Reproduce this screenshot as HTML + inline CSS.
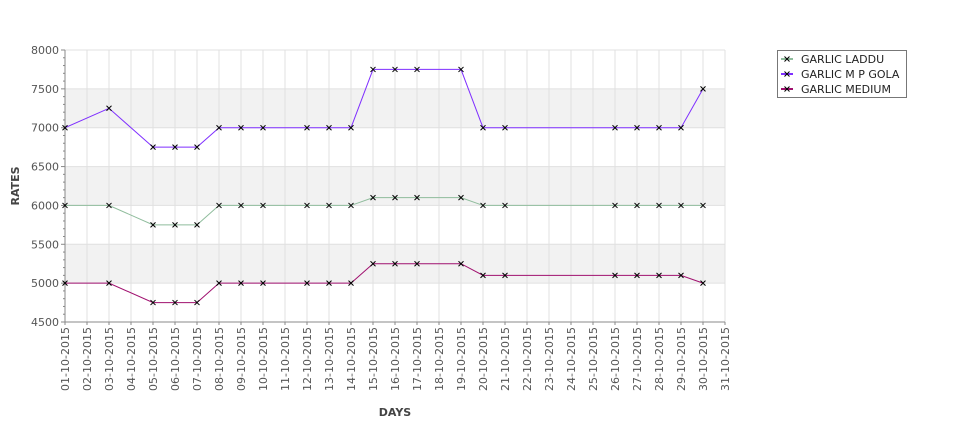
<!DOCTYPE html>
<html><head><meta charset="utf-8"><style>
body{margin:0;background:#fff;}
svg{display:block;font-family:"DejaVu Sans","Liberation Sans",sans-serif;}
</style></head><body>
<svg id="c" width="975" height="429"></svg>
<script>
const days=[1,3,5,6,7,8,9,10,12,13,14,15,16,17,19,20,21,26,27,28,29,30];
const seriesNames=["GARLIC LADDU","GARLIC M P GOLA","GARLIC MEDIUM"];
const laddu=[6000,6000,5750,5750,5750,6000,6000,6000,6000,6000,6000,6100,6100,6100,6100,6000,6000,6000,6000,6000,6000,6000];
const gola=[7000,7250,6750,6750,6750,7000,7000,7000,7000,7000,7000,7750,7750,7750,7750,7000,7000,7000,7000,7000,7000,7500];
const medium=[5000,5000,4750,4750,4750,5000,5000,5000,5000,5000,5000,5250,5250,5250,5250,5100,5100,5100,5100,5100,5100,5000];
const yTicks=[4500,5000,5500,6000,6500,7000,7500,8000];
const xLabels=[];for(let d=1;d<=31;d++)xLabels.push(String(d).padStart(2,'0')+"-10-2015");
const colors=["#8fbc9c","#7f2fff","#a0106f"];

const NS="http://www.w3.org/2000/svg",svg=document.getElementById('c');
const L=65,R=725,T=50,B=322,Y0=4500,Y1=8000;
const x=d=>L+(d-1)*(R-L)/30;
const y=v=>B-(v-Y0)*(B-T)/(Y1-Y0);
function mk(t,a,p){const e=document.createElementNS(NS,t);for(const k in a)e.setAttribute(k,a[k]);(p||svg).appendChild(e);return e;}
for(let i=0;i<yTicks.length-1;i++){if(i%2===1){const r=mk('rect',{x:L,y:y(yTicks[i+1]),width:R-L,height:y(yTicks[i])-y(yTicks[i+1]),fill:'#f2f2f2'});

}}
for(let d=1;d<=31;d++){const g=mk('line',{x1:x(d),x2:x(d),y1:T,y2:B,stroke:'#e0e0e0'});

}
yTicks.forEach(v=>{const g=mk('line',{x1:L,x2:R,y1:y(v),y2:y(v),stroke:'#e0e0e0'});


const t=mk('text',{x:L-6,y:y(v)+4,'text-anchor':'end','font-size':11,fill:'#555'});t.textContent=v;


mk('line',{x1:L-4,x2:L,y1:y(v),y2:y(v),stroke:'#888'});});
for(let v=Y0;v<=Y1;v+=100){if(v%500)mk('line',{x1:L-2,x2:L,y1:y(v),y2:y(v),stroke:'#888'});}
mk('line',{x1:L,x2:L,y1:T,y2:B,stroke:'#888'});
mk('line',{x1:L,x2:R,y1:B,y2:B,stroke:'#888'});
xLabels.forEach((s,i)=>{const d=i+1;mk('line',{x1:x(d),x2:x(d),y1:B,y2:B+3,stroke:'#888'});
const t=mk('text',{x:0,y:0,transform:`translate(${x(d)+4},${B+5}) rotate(-90)`,'text-anchor':'end','font-size':11,fill:'#555'});t.textContent=s;

});
let t=mk('text',{x:0,y:0,transform:'translate(19,186) rotate(-90)','text-anchor':'middle','font-size':11,'font-weight':'bold',fill:'#444'});t.textContent='RATES';


t=mk('text',{x:395,y:416,'text-anchor':'middle','font-size':11,'font-weight':'bold',fill:'#444'});t.textContent='DAYS';


function cross(cx,cy,p){mk('path',{d:`M${cx-2.5} ${cy-2.5}L${cx+2.5} ${cy+2.5}M${cx-2.5} ${cy+2.5}L${cx+2.5} ${cy-2.5}`,stroke:'#000','stroke-width':1},p);}
[laddu,gola,medium].forEach((vals,si)=>{const g=mk('g',{});


mk('polyline',{points:vals.map((v,i)=>x(days[i])+','+y(v)).join(' '),fill:'none',stroke:colors[si],'stroke-width':1},g);
vals.forEach((v,i)=>cross(x(days[i]),y(v),g));});
const lg=mk('g',{});


mk('rect',{x:777.5,y:50.5,width:129,height:47,fill:'#fff',stroke:'#777'},lg);
seriesNames.forEach((n,i)=>{const yy=58+i*15;const e=mk('g',{},lg);


mk('line',{x1:781,x2:793,y1:yy+1,y2:yy+1,stroke:colors[i],'stroke-width':2},e);cross(787,yy+1,e);
const tt=mk('text',{x:801,y:yy+5,'font-size':11,fill:'#222'},e);tt.textContent=n;});
</script>
</body></html>
